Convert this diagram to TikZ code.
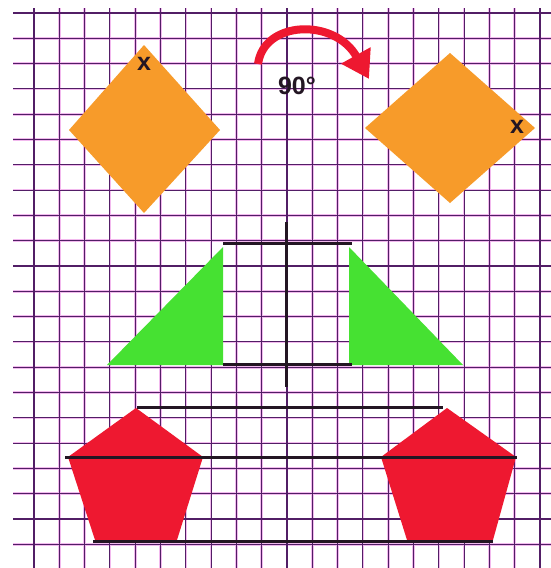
\documentclass[tikz,border=0pt]{standalone}
\usepackage{fontspec}
\setmainfont{Liberation Sans}
\usetikzlibrary{arrows.meta}
\definecolor{colorGrid}{RGB}{82,30,102}
\definecolor{colorHalo}{RGB}{242,185,238}
\definecolor{colorOrange}{RGB}{247,155,42}
\definecolor{colorGreen}{RGB}{70,225,50}
\definecolor{colorRed}{RGB}{238,24,48}
\definecolor{colorInk}{RGB}{35,22,35}

\begin{document}
\begin{tikzpicture}[
    x=1pt, y=-1pt,
    gridhalo/.style={draw=colorHalo, line width=2.6pt},
    gridline/.style={draw=colorGrid, line width=1.1pt},
    kite/.style={fill=colorOrange},
    wedge/.style={fill=colorGreen},
    penta/.style={fill=colorRed},
    axis/.style={draw=colorInk, line width=3pt},
    turn/.style={draw=colorRed, line width=8pt, -{Triangle[length=27pt, width=32pt]}},
    xmark/.style={font=\fontsize{25}{25}\selectfont\bfseries, text=colorInk, inner sep=0pt},
    anglelbl/.style={font=\fontsize{25}{25}\selectfont\bfseries, text=colorInk, inner sep=0pt}
  ]
    \useasboundingbox[fill=white] (0,0) rectangle (551,568);

    % squared paper
    \foreach \i in {0,...,20}
      \draw[gridhalo] ({34+25.3*\i},8) -- ({34+25.3*\i},568);
    \foreach \j in {0,...,21}
      \draw[gridhalo] (13,{13+25.3*\j}) -- (551,{13+25.3*\j});
    \foreach \i in {0,...,20}
      \draw[gridline] ({34+25.3*\i},8) -- ({34+25.3*\i},568);
    \foreach \j in {0,...,21}
      \draw[gridline] (13,{13+25.3*\j}) -- (551,{13+25.3*\j});

    % rotation
    \fill[kite] (144,45) -- (220,130) -- (144,213) -- (69,130) -- cycle;
    \fill[kite] (450,53) -- (535,128) -- (450,203) -- (365,128) -- cycle;
    \node[xmark] (xold) at (144,64) {x};
    \node[xmark] (xnew) at (517,127) {x};
    \draw[turn] (258,64) .. controls (264,20) and (335,18) .. (369,79);
    \node[anglelbl] (deg) at (297,86) {90°};

    % reflection
    \fill[wedge] (107,365) -- (223,247) -- (223,365) -- cycle;
    \fill[wedge] (349,247) -- (463,365) -- (349,365) -- cycle;
    \draw[axis] (223,243) -- (352,243);
    \draw[axis] (223,364) -- (352,364);
    \draw[axis] (286,222) -- (286,387);

    % translation
    \fill[penta] (136,408) -- (203,457) -- (177,540) -- (95,540) -- (68,457) -- cycle;
    \fill[penta] (447,408) -- (516,457) -- (493,540) -- (407,540) -- (381,457) -- cycle;
    \draw[axis] (137,407) -- (443,407);
    \draw[axis] (65,457) -- (517,457);
    \draw[axis] (93,541) -- (493,541);
  \end{tikzpicture}
\end{document}
